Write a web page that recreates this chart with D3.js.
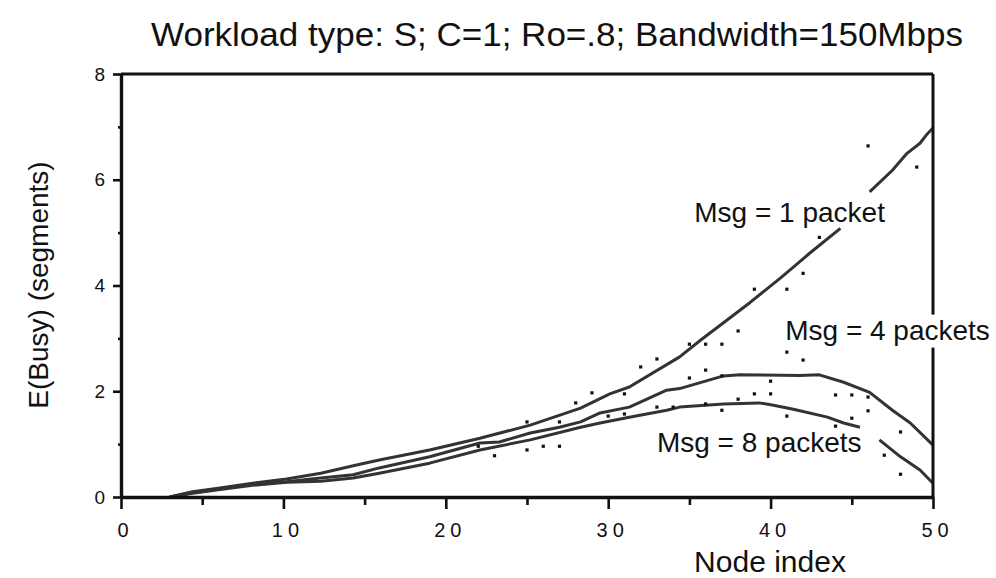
<!DOCTYPE html>
<html><head><meta charset="utf-8">
<script src="https://cdn.jsdelivr.net/npm/d3@7"></script>
<style>
html,body{margin:0;padding:0;background:#fff;}
text{font-family:"Liberation Sans",Arial,Helvetica,sans-serif;fill:#111;}
</style></head>
<body><svg id="c" width="996" height="578"></svg>
<script>
const title = "Workload type: S; C=1; Ro=.8; Bandwidth=150Mbps";
const xLabel = "Node index";
const yLabel = "E(Busy) (segments)";
const xTicks = [0,10,20,30,40,50];
const xMinorTicks = [5,15,25,35,45];
const yTicks = [0,2,4,6,8];
const yMinorTicks = [1,3,5,7];
const seriesNames = ["Msg = 1 packet","Msg = 4 packets","Msg = 8 packets"];
// analytic curves (null = break in line)
const msg1 = [[3,0],[4.4,0.1],[6.1,0.17],[8.1,0.26],[10.2,0.34],[12.3,0.45],[14.3,0.59],[15.9,0.70],[19,0.89],[22.1,1.11],[25.2,1.36],[28.3,1.68],[30.1,1.95],[31.3,2.08],[34.4,2.65],[35.7,2.97],[38.7,3.67],[40.6,4.14],[41.8,4.45],[42.4,4.61],[44.3,5.08],null,[46.1,5.77],[47.5,6.18],[48.4,6.50],[49.2,6.69],[49.6,6.85],[50,6.98]];
const msg4 = [[3,0],[4.4,0.08],[6.1,0.15],[8.1,0.24],[10.2,0.29],[12.3,0.36],[14.3,0.42],[15.9,0.55],[19,0.76],[22.1,1.02],[23.3,1.04],[25.2,1.21],[27,1.32],[28.3,1.42],[29.5,1.59],[31.3,1.70],[33.6,2.02],[34.4,2.05],[37.1,2.29],[38.1,2.31],[41.8,2.30],[43,2.31],[44.5,2.17],[46.1,1.98],[47.5,1.64],[48.6,1.40],[50,0.98]];
const msg8 = [[3,0],[4.4,0.07],[6.1,0.14],[8.1,0.22],[10.2,0.28],[12.3,0.30],[14.3,0.36],[15.9,0.45],[19,0.64],[22.1,0.89],[25.2,1.08],[28.3,1.32],[29.5,1.40],[31.3,1.51],[33.6,1.64],[34.4,1.70],[37.1,1.76],[39.3,1.78],[40.1,1.74],[41.4,1.66],[43.5,1.51],[44.5,1.40],[45.5,1.32],null,[46.7,1.08],[48,0.76],[49.2,0.51],[50,0.26]];
// simulation points
const simX = [22,23,25,26,27,25,27,28,29,30,31,31,32,33,33,34,35,35,36,37,36,36,37,37,38,38,39,39,40,40,41,41,41,42,42,43,44,44,45,45,46,46,46,47,48,48,49];
const simY = [0.96,0.78,0.89,0.96,0.96,1.42,1.42,1.78,1.97,1.53,1.95,1.57,2.46,2.61,1.70,1.70,2.25,2.89,2.89,2.89,2.40,1.76,1.64,2.29,3.14,1.85,3.93,1.95,2.19,1.95,3.93,2.74,1.53,4.23,2.59,4.91,1.93,1.34,1.93,1.49,6.64,1.89,1.63,0.79,1.23,0.43,6.24];

const svg = d3.select("#c");
const x = d3.scaleLinear().domain([0,50]).range([121,933]);
const y = d3.scaleLinear().domain([0,8]).range([497,74]);

// title
svg.append("text").attr("x",557).attr("y",46).attr("text-anchor","middle")
  .attr("font-size",34).attr("textLength",812).attr("lengthAdjust","spacingAndGlyphs").text(title);

// curves
const line = d3.line().defined(d=>d!==null).x(d=>x(d[0])).y(d=>y(d[1]));
[msg1,msg4,msg8].forEach(s=>{
  svg.append("path").attr("d",line(s)).attr("fill","none")
    .attr("stroke","#333").attr("stroke-width",3).attr("stroke-linejoin","round");
});

// points
svg.append("g").selectAll("rect").data(simX.map((v,i)=>[v,simY[i]])).join("rect")
  .attr("x",d=>x(d[0])-1.6).attr("y",d=>y(d[1])-1.6).attr("width",3.2).attr("height",3.2).attr("fill","#111");

// frame
svg.append("line").attr("x1",x(0)).attr("x2",x(50)).attr("y1",y(8)).attr("y2",y(8)).attr("stroke","#111").attr("stroke-width",2.8);
svg.append("line").attr("x1",x(50)).attr("x2",x(50)).attr("y1",y(8)).attr("y2",y(0)).attr("stroke","#111").attr("stroke-width",3);

// axes
const yAx = svg.append("g").attr("transform",`translate(${x(0)},0)`)
  .call(d3.axisLeft(y).tickValues(yTicks).tickSize(8).tickSizeOuter(0).tickPadding(8).tickFormat(d3.format("d")));
const yMin = svg.append("g").attr("transform",`translate(${x(0)},0)`)
  .call(d3.axisLeft(y).tickValues(yMinorTicks).tickSize(3).tickFormat(""));
yMin.select(".domain").remove();
const xAx = svg.append("g").attr("transform",`translate(0,${y(0)})`)
  .call(d3.axisBottom(x).tickValues(xTicks).tickSize(12).tickSizeOuter(0).tickPadding(14).tickFormat(d3.format("d")));
const xMin = svg.append("g").attr("transform",`translate(0,${y(0)})`)
  .call(d3.axisBottom(x).tickValues(xMinorTicks).tickSize(8).tickFormat(""));
xMin.select(".domain").remove();
[yAx,xAx].forEach(g=>g.select(".domain").attr("stroke","#111").attr("stroke-width",3.4));
[yAx,xAx,yMin,xMin].forEach(g=>g.selectAll(".tick line").attr("stroke","#111").attr("stroke-width",2.6));
yAx.attr("font-size",19);
xAx.attr("font-size",20);
yAx.selectAll(".tick text").attr("fill","#111");
xAx.selectAll(".tick text").attr("fill","#111").attr("dx","4").style("letter-spacing","5px");

// series labels
svg.append("text").attr("x",x(35.3)).attr("y",y(5.2)).attr("font-size",28).text(seriesNames[0]);
svg.append("rect").attr("x",x(40.9)-2).attr("y",y(3.45)).attr("width",214).attr("height",33).attr("fill","#fff");
svg.append("text").attr("x",x(40.9)).attr("y",y(2.97)).attr("font-size",28).text(seriesNames[1]);
svg.append("text").attr("x",x(33)).attr("y",y(0.85)).attr("font-size",28).text(seriesNames[2]);

// axis titles
svg.append("text").attr("x",770).attr("y",572).attr("text-anchor","middle").attr("font-size",30).text(xLabel);
svg.append("text").attr("transform","translate(48,285) rotate(-90)").attr("text-anchor","middle").attr("font-size",28).text(yLabel);
</script></body></html>
